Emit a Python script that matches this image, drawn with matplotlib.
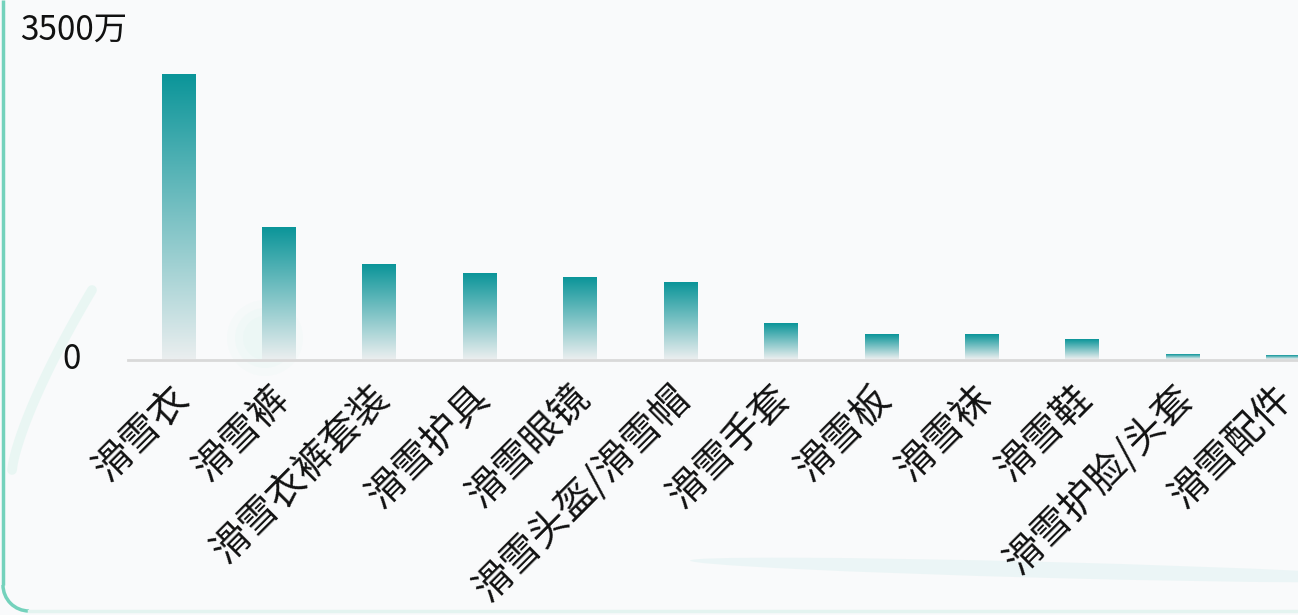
import matplotlib
matplotlib.use("Agg")
import matplotlib.pyplot as plt
import numpy as np
from matplotlib.patches import Circle, Ellipse, Arc
from matplotlib.transforms import offset_copy

plt.rcParams['font.family'] = ['Noto Sans CJK SC', 'DejaVu Sans']

# sales by ski product category (unit: 万)
categories = ['滑雪衣', '滑雪裤', '滑雪衣裤套装', '滑雪护具', '滑雪眼镜', '滑雪头盔/滑雪帽',
              '滑雪手套', '滑雪板', '滑雪袜', '滑雪鞋', '滑雪护脸/头套', '滑雪配件']
sales = [3020, 1400, 1000, 910, 865, 810, 375, 260, 260, 205, 45, 35]
y_max = 3500
y_tick_labels = ['0', '3500万']

W, H = 1298, 615
fig = plt.figure(figsize=(W / 100, H / 100), dpi=100)
fig.patch.set_facecolor('#f9fafb')

# soft background decorations (pixel coords, y downwards)
deco = fig.add_axes([0, 0, 1, 1], zorder=0)
deco.set_xlim(0, W)
deco.set_ylim(H, 0)
deco.axis('off')
t = np.linspace(0, 1, 80)
deco.plot(12 + 80 * t, 470 - 180 * t ** 0.75, color='#c5efe3', lw=7, alpha=0.3,
          solid_capstyle='round')
for r, a in [(38, 0.06), (30, 0.08), (22, 0.07)]:
    deco.add_patch(Circle((265, 338), r, facecolor='#b8f0e4', edgecolor='none', alpha=a))
deco.add_patch(Ellipse((1050, 570), 720, 16, angle=1.5, facecolor='#dcf0f0',
                       edgecolor='none', alpha=0.45))

# card border: teal left edge with rounded bottom corner
rad = 26
edge = '#74d2bc'
deco.plot([3, 3], [0, 611 - rad], color=edge, lw=2.5, solid_capstyle='butt')
deco.add_patch(Arc((3 + rad, 611 - rad), 2 * rad, 2 * rad, theta1=90, theta2=180,
                   color=edge, lw=2.5))
deco.plot([3 + rad, W], [611, 611], color='#e4f4f0', lw=2.5)

ax = fig.add_axes([128 / W, (H - 359.5) / H, 1205 / W, 329.5 / H], zorder=1)
ax.patch.set_visible(False)

x = np.arange(len(categories))
bar_w = 0.33

# vertical teal-to-pale gradient in each bar
top_rgb = np.array([11, 149, 153]) / 255
bot_rgb = np.array([234, 238, 239]) / 255
frac = np.linspace(0, 1, 256)[:, None]
grad = (top_rgb * (1 - frac) + bot_rgb * frac)[:, None, :]
for xi, v in zip(x, sales):
    ax.imshow(grad, extent=(xi - bar_w / 2, xi + bar_w / 2, 0, v),
              aspect='auto', interpolation='bilinear', zorder=2)

ax.set_xlim(-0.5, len(categories) - 0.5)
ax.set_ylim(0, y_max)

for s in ['top', 'right', 'left']:
    ax.spines[s].set_visible(False)
ax.spines['bottom'].set_color('#d9d9d9')
ax.spines['bottom'].set_linewidth(2)
ax.spines['bottom'].set_zorder(3)

ax.set_yticks([])
ytr = ax.get_yaxis_transform()
ax.text(-0.039, 0, y_tick_labels[0], transform=ytr, ha='right', va='center',
        fontsize=24, color='#111111')
ax.text(-0.0896, y_max, y_tick_labels[1], transform=ytr, ha='left', va='center',
        fontsize=24, color='#111111')

ax.set_xticks(x)
ax.set_xticklabels(categories, rotation=45, ha='right', va='center',
                   rotation_mode='anchor', fontsize=28, color='#111111')
ax.tick_params(axis='x', length=0, pad=23.5)
for lbl in ax.get_xticklabels():
    lbl.set_transform(offset_copy(lbl.get_transform(), fig=fig, x=4, y=0, units='dots'))

fig.savefig('out.png', dpi=100, facecolor=fig.get_facecolor())
